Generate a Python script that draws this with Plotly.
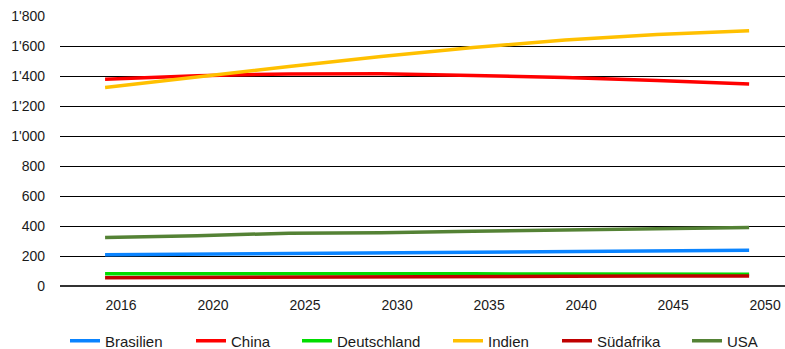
import plotly.graph_objects as go

years = ["2016", "2020", "2025", "2030", "2035", "2040", "2045", "2050"]
brasilien = [209, 213, 220, 226, 230, 233, 236, 238]
china = [1378, 1402, 1414, 1415, 1404, 1390, 1370, 1346]
deutschland = [82, 83, 83, 82, 81, 80, 79, 79]
indien = [1324, 1396, 1464, 1530, 1590, 1640, 1676, 1702]
suedafrika = [55, 58, 60, 62, 64, 65, 66, 67]
usa = [324, 335, 352, 355, 365, 373, 382, 390]

series = [
    ("Brasilien", brasilien, "#0A84FF"),
    ("China", china, "#FF0000"),
    ("Deutschland", deutschland, "#00DD00"),
    ("Indien", indien, "#FFC000"),
    ("Südafrika", suedafrika, "#C00000"),
    ("USA", usa, "#548235"),
]
# legend entry text starts (pixels)
legend_text_x = [106, 232, 338, 489, 598, 728]

idx = list(range(len(years)))
fig = go.Figure()
legends = {}
for i, (name, vals, color) in enumerate(series):
    lname = "legend" if i == 0 else f"legend{i+1}"
    fig.add_trace(go.Scatter(x=idx, y=vals, name=name, mode="lines",
                             line=dict(color=color, width=3.5),
                             legend=lname))
    legends[lname] = dict(orientation="h", xref="container", yref="container",
                          x=(legend_text_x[i] - 41) / 785, xanchor="left",
                          y=8 / 349, yanchor="middle",
                          font=dict(size=15), bgcolor="rgba(0,0,0,0)")

fig.update_layout(
    width=785, height=349,
    margin=dict(l=60, r=0, t=16, b=63, autoexpand=False),
    paper_bgcolor="white", plot_bgcolor="white",
    font=dict(family="Liberation Sans, Arial, sans-serif", size=14, color="#1a1a1a"),
    separators=".'",
    showlegend=True,
    xaxis=dict(range=[-0.49, 7.39], tickvals=idx, ticktext=years, showgrid=False,
               zeroline=False, showline=False, ticklabelshift=16, ticklabelstandoff=9,
               ticklabeloverflow="allow", automargin=False, fixedrange=True),
    yaxis=dict(range=[0, 1800], dtick=200, tickformat=",d", gridcolor="#000",
               gridwidth=1.2, zeroline=True, zerolinecolor="#333", zerolinewidth=2,
               showline=False, ticklabelstandoff=14, automargin=False),
    **legends,
)

fig.write_html("out.html", config={"displayModeBar": False},
               post_script="document.body.style.margin='0';")
